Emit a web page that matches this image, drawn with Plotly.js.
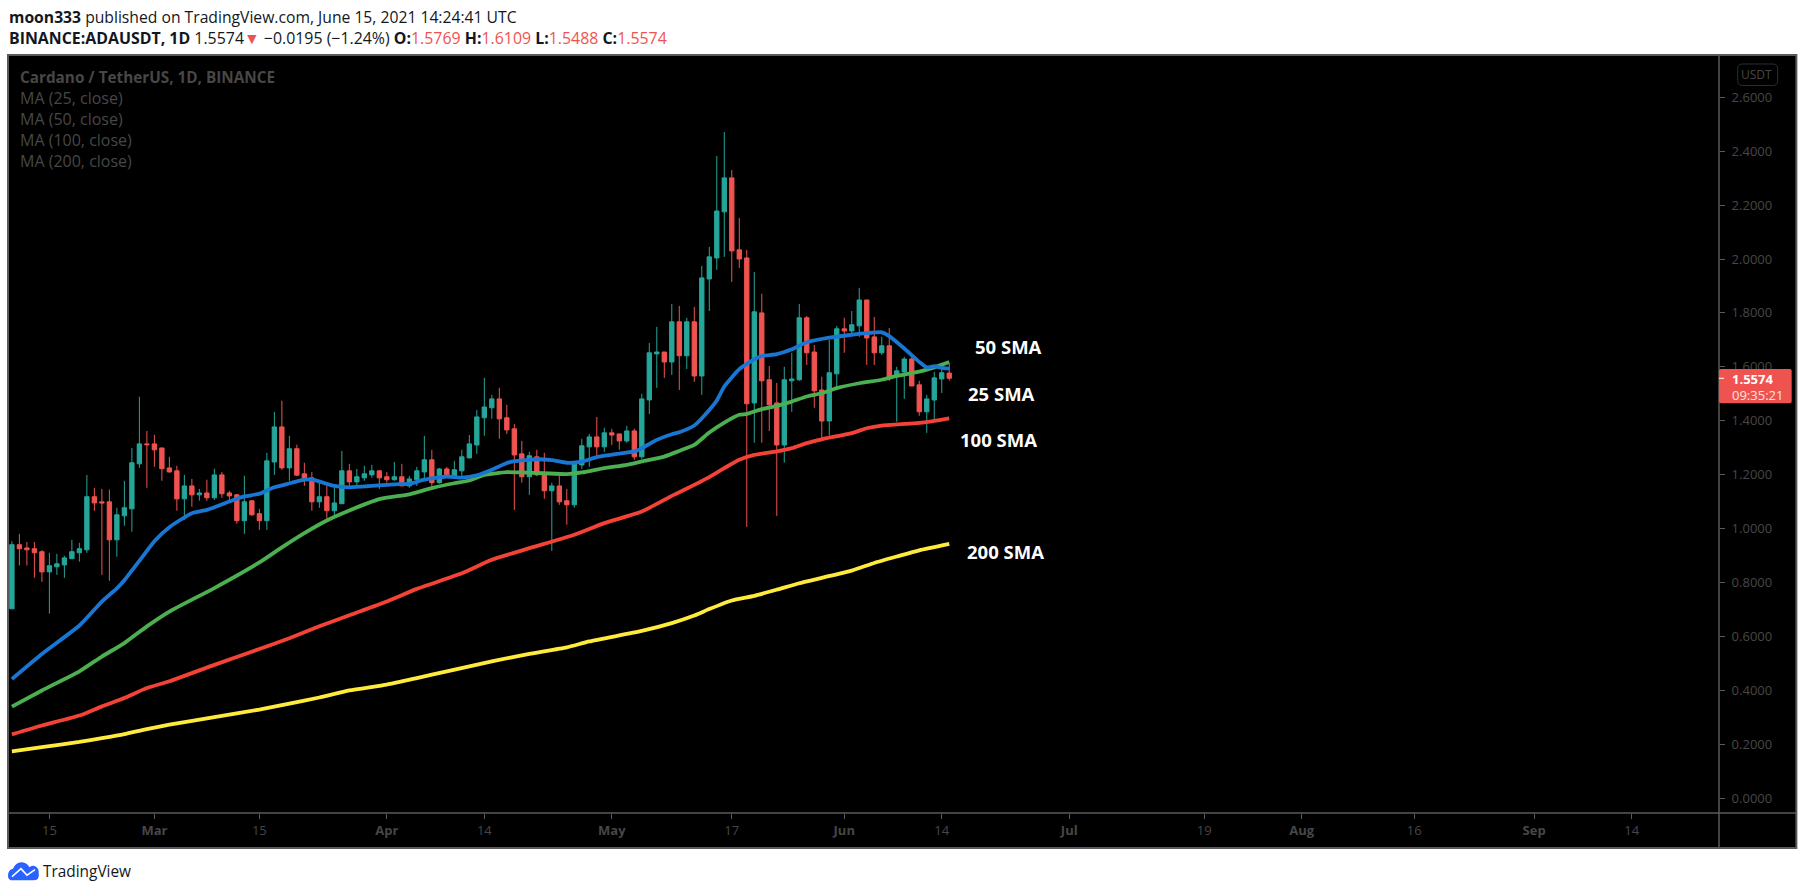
<!DOCTYPE html>
<html><head><meta charset="utf-8">
<script src="https://cdn.plot.ly/plotly-3.0.1.min.js"></script>
<style>html,body{margin:0;padding:0;background:#fff;overflow:hidden}#c{width:1805px;height:895px}</style>
</head><body><div id="c"></div>
<script>
const FIRST_DAY = '2021-02-10';
const open = [.702,.940,.928,.925,.914,.839,.858,.865,.888,.910,
.921,1.118,1.099,1.099,.958,1.047,1.073,1.240,1.314,1.314,
1.299,1.225,1.214,1.110,1.158,1.125,1.132,1.114,1.199,1.132,
1.125,1.029,1.103,1.055,1.029,1.247,1.377,1.225,1.296,1.203,
1.188,1.099,1.118,1.066,1.092,1.214,1.173,1.188,1.199,1.214,
1.192,1.181,1.192,1.158,1.181,1.210,1.255,1.170,1.221,1.195,
1.214,1.262,1.310,1.411,1.448,1.481,1.411,1.370,1.277,1.192,
1.266,1.203,1.140,1.158,1.103,1.088,1.236,1.303,1.340,1.303,
1.355,1.351,1.325,1.362,1.266,1.477,1.648,1.655,1.618,1.767,
1.641,1.767,1.566,1.926,2.004,2.175,2.301,2.034,2.004,1.466,
1.800,1.552,1.466,1.310,1.548,1.552,1.782,1.655,1.514,1.399,
1.574,1.741,1.733,1.752,1.848,1.711,1.652,1.678,1.563,1.581,
1.629,1.533,1.433,1.477,1.555,1.5769];
const high = [.953,.980,.950,.950,.920,.910,.906,.899,.958,.947,
1.199,1.151,1.147,1.144,1.077,1.177,1.299,1.489,1.362,1.348,
1.299,1.266,1.233,1.199,1.184,1.147,1.181,1.222,1.210,1.140,
1.129,1.196,1.103,1.073,1.281,1.433,1.474,1.344,1.311,1.244,
1.210,1.173,1.166,1.155,1.288,1.240,1.221,1.233,1.236,1.214,
1.210,1.247,1.240,1.195,1.229,1.344,1.292,1.225,1.229,1.251,
1.292,1.347,1.440,1.559,1.496,1.522,1.459,1.388,1.325,1.285,
1.292,1.281,1.170,1.195,1.147,1.247,1.333,1.351,1.414,1.374,
1.370,1.351,1.381,1.370,1.500,1.688,1.748,1.655,1.833,1.826,
1.782,1.822,1.974,2.045,2.382,2.471,2.330,2.152,2.034,1.952,
1.871,1.603,1.540,1.600,1.652,1.833,1.789,1.681,1.563,1.700,
1.752,1.782,1.807,1.893,1.848,1.785,1.711,1.744,1.600,1.637,
1.641,1.548,1.496,1.581,1.600,1.6109];
const low = [.702,.863,.863,.817,.802,.684,.828,.817,.888,.877,
.910,1.066,.828,.806,.895,1.010,.988,1.225,1.151,1.229,
1.177,1.207,1.066,1.032,1.081,1.103,1.103,1.106,1.114,1.103,
1.018,.980,1.047,.995,.995,1.199,1.218,1.177,1.196,1.158,
1.066,1.077,1.036,1.043,1.092,1.155,1.155,1.177,1.188,1.147,
1.170,1.177,1.158,1.151,1.158,1.188,1.155,1.166,1.188,1.188,
1.195,1.262,1.277,1.344,1.407,1.333,1.351,1.069,1.170,1.125,
1.195,1.110,.917,1.088,1.014,1.077,1.221,1.229,1.262,1.285,
1.310,1.292,1.318,1.255,1.258,1.425,1.522,1.559,1.570,1.514,
1.592,1.544,1.496,1.807,1.960,2.008,1.915,1.967,1.006,1.318,
1.318,1.362,1.047,1.244,1.433,1.548,1.607,1.448,1.333,1.344,
1.522,1.652,1.715,1.711,1.607,1.607,1.644,1.548,1.396,1.481,
1.529,1.418,1.355,1.396,1.503,1.5488];
const close = [.940,.925,.921,.910,.839,.862,.869,.891,.914,.925,
1.118,1.095,1.095,.958,1.051,1.077,1.244,1.314,1.311,1.292,
1.222,1.210,1.110,1.158,1.125,1.132,1.114,1.199,1.129,1.121,
1.029,1.099,1.051,1.029,1.251,1.377,1.225,1.296,1.198,1.184,
1.099,1.118,1.066,1.095,1.214,1.173,1.192,1.203,1.214,1.188,
1.181,1.192,1.158,1.184,1.214,1.255,1.170,1.221,1.195,1.218,
1.266,1.314,1.414,1.451,1.481,1.407,1.366,1.273,1.192,1.270,
1.199,1.140,1.158,1.099,1.088,1.240,1.307,1.340,1.303,1.355,
1.347,1.325,1.362,1.266,1.481,1.652,1.655,1.618,1.767,1.641,
1.767,1.566,1.930,2.008,2.178,2.301,2.030,2.000,1.463,1.804,
1.548,1.459,1.310,1.552,1.555,1.782,1.652,1.511,1.399,1.578,
1.741,1.733,1.756,1.848,1.707,1.652,1.678,1.563,1.585,1.629,
1.529,1.433,1.481,1.559,1.578,1.5574];

const ma25Dates = ['02-10','02-14','02-19','02-22','02-24','02-25','02-27','03-01','03-03','03-06','03-08','03-11','03-13','03-15','03-17','03-18','03-21','03-22','03-25','03-27','03-30','04-02','04-04','04-06','04-09','04-11','04-13','04-15','04-17','04-18','04-21','04-23','04-25','04-27','04-29','05-02','05-04','05-05','05-07','05-09','05-10','05-12','05-14','05-15','05-16','05-18','05-20','05-21','05-23','05-25','05-27','05-30','06-02','06-04','06-06','06-07','06-09','06-11','06-12','06-13','06-14','06-15'];
const ma25 = [.441,.534,.640,.729,.778,.808,.880,.953,1.005,1.057,1.069,1.100,1.119,1.129,1.153,1.160,1.181,1.182,1.158,1.153,1.158,1.164,1.166,1.181,1.193,1.189,1.197,1.218,1.243,1.250,1.257,1.254,1.244,1.248,1.265,1.278,1.286,1.298,1.329,1.350,1.357,1.382,1.440,1.475,1.527,1.591,1.628,1.640,1.647,1.665,1.691,1.708,1.719,1.725,1.728,1.714,1.668,1.618,1.598,1.602,1.596,1.593];
const ma50Dates = ['02-10','02-14','02-19','02-22','02-25','02-28','03-03','03-09','03-15','03-18','03-21','03-24','03-27','03-31','04-04','04-07','04-10','04-12','04-14','04-17','04-19','04-22','04-25','04-27','04-30','05-03','05-05','05-08','05-10','05-12','05-14','05-16','05-18','05-19','05-21','05-23','05-25','05-27','05-29','05-31','06-03','06-06','06-08','06-11','06-13','06-15'];
const ma50 = [.339,.399,.470,.525,.575,.637,.692,.779,.874,.930,.983,1.030,1.067,1.109,1.127,1.150,1.168,1.178,1.199,1.209,1.208,1.205,1.202,1.208,1.224,1.236,1.249,1.267,1.288,1.310,1.356,1.393,1.422,1.425,1.443,1.455,1.471,1.490,1.502,1.521,1.539,1.552,1.566,1.582,1.598,1.618];
const ma100Dates = ['02-10','02-14','02-19','02-22','02-25','02-28','03-03','03-09','03-15','03-19','03-23','03-27','04-01','04-05','04-11','04-15','04-20','04-26','04-30','05-05','05-09','05-12','05-14','05-16','05-18','05-20','05-23','05-25','05-27','05-29','06-02','06-04','06-06','06-09','06-12','06-15'];
const ma100 = [.236,.269,.306,.340,.371,.408,.433,.494,.553,.593,.637,.678,.729,.776,.834,.884,.927,.977,1.020,1.063,1.121,1.162,1.191,1.224,1.255,1.273,1.286,1.298,1.317,1.331,1.354,1.372,1.382,1.388,1.395,1.409];
const ma200Dates = ['02-10','02-14','02-19','02-22','02-25','02-28','03-03','03-09','03-15','03-19','03-23','03-27','04-01','04-05','04-09','04-15','04-20','04-25','04-28','05-05','05-09','05-12','05-14','05-17','05-20','05-23','05-26','05-29','06-02','06-05','06-08','06-11','06-15'];
const ma200 = [.173,.189,.208,.222,.237,.256,.272,.300,.328,.350,.373,.399,.421,.445,.470,.507,.535,.559,.581,.620,.649,.677,.701,.733,.750,.773,.797,.817,.844,.872,.896,.919,.943];

const xTickDates = ['2021-02-15','2021-03-01','2021-03-15','2021-04-01','2021-04-14','2021-05-01','2021-05-17','2021-06-01','2021-06-14','2021-07-01','2021-07-19','2021-08-01','2021-08-16','2021-09-01','2021-09-14'];
const xTickText = ['15','<b>Mar</b>','15','<b>Apr</b>','14','<b>May</b>','17','<b>Jun</b>','14','<b>Jul</b>','19','<b>Aug</b>','16','<b>Sep</b>','14'];
const yTicks = [0,.2,.4,.6,.8,1,1.2,1.4,1.6,1.8,2,2.2,2.4,2.6];
const lastPrice = 1.5574;
const smaLabels = ['50 SMA','25 SMA','100 SMA','200 SMA'];
const paneTitle = 'Cardano / TetherUS, 1D, BINANCE';
const paneLegend = ['MA (25, close)','MA (50, close)','MA (100, close)','MA (200, close)'];

const L=8,R=1719.3,T=55,B=813.3,FR=1796.7,FB=848.3;
const px=v=>(v-L)/(R-L), py=v=>1-(v-T)/(B-T);
const UP='#26a69a',DN='#ef5350',FR_C='#5a5a5a',TXT='#474747',FONT='"Open Sans",sans-serif';
const dates=open.map((_,i)=>new Date(Date.parse(FIRST_DAY+'T00:00:00Z')+i*864e5).toISOString().slice(0,10));
const full=a=>a.map(d=>'2021-'+d);
const line=(x,y,c)=>({type:'scatter',mode:'lines',x:full(x),y:y,line:{color:c,width:3.8,shape:'spline',smoothing:.5},hoverinfo:'skip',showlegend:false});

const traces=[
 line(ma200Dates,ma200,'#ffeb3b'),
 line(ma100Dates,ma100,'#f44336'),
 {type:'candlestick',x:dates,open,high,low,close,whiskerwidth:0,showlegend:false,hoverinfo:'skip',
  increasing:{line:{color:UP,width:1},fillcolor:UP},decreasing:{line:{color:DN,width:1},fillcolor:DN}},
 line(ma50Dates,ma50,'#4caf50'),
 line(ma25Dates,ma25,'#1976d2')
];
const P=(pts)=>pts.map(s=>typeof s==='string'?s:px(s[0])+','+py(s[1])).join(' ');
const rr=(x0,y0,x1,y1,r)=>P(['M',[x0+r,y0],'L',[x1-r,y0],'Q',[x1,y0],[x1,y0+r],'L',[x1,y1-r],'Q',[x1,y1],[x1-r,y1],'L',[x0+r,y1],'Q',[x0,y1],[x0,y1-r],'L',[x0,y0+r],'Q',[x0,y0],[x0+r,y0],'Z']);
const pa=(o)=>Object.assign({xref:'paper',yref:'paper'},o);
const shapes=[
 pa({type:'rect',layer:'below',x0:px(L),x1:px(FR),y0:py(T),y1:py(FB),fillcolor:'#000',line:{color:FR_C,width:2}}),
 pa({type:'line',layer:'above',x0:px(L),x1:px(FR),y0:py(B),y1:py(B),line:{color:FR_C,width:1.5}}),
 pa({type:'line',layer:'above',x0:px(R),x1:px(R),y0:py(T),y1:py(FB),line:{color:FR_C,width:1.5}}),
 pa({type:'path',layer:'above',path:rr(R,369,1792,403.3,2),fillcolor:DN,line:{width:0}}),
 {type:'line',layer:'above',xref:'paper',yref:'y',x0:px(R),x1:px(R+5),y0:lastPrice,y1:lastPrice,line:{color:'#fff',width:1}},
 pa({type:'path',layer:'above',path:rr(1738,64,1778,85.5,5),fillcolor:'rgba(0,0,0,0)',line:{color:'#2a2e39',width:1}}),
 pa({type:'path',layer:'above',path:P(['M',[8,876],'Q',[8,870],[13,869],'Q',[16,862],[22,862.5],'Q',[27,863],[29.5,867.5],'Q',[33,865],[36,867],'Q',[39,869],[38.7,873],'Q',[40,880.7],[33,880.7],'L',[13,880.7],'Q',[8,880.7],[8,876],'Z']),fillcolor:'#2962ff',line:{width:0}}),
 pa({type:'path',layer:'above',path:P(['M',[12,877],'L',[21,869],'L',[27,875.5],'L',[35,870]]),fillcolor:'rgba(0,0,0,0)',line:{color:'#fff',width:1.6}})
];
const note=(x,y,text,size,color,extra)=>Object.assign({xref:'paper',yref:'paper',x:px(x),y:py(y),text,showarrow:false,xanchor:'left',yanchor:'middle',align:'left',borderpad:0,
  font:{family:FONT,size,color}},extra||{});
const r=s=>'<span style="color:#ef5350">'+s+'</span>';
const annotations=[
 note(8,17,'<b>moon333</b> published on TradingView.com, June 15, 2021 14:24:41 UTC',15.7,'#131722'),
 note(8,38,'<b>BINANCE:ADAUSDT, 1D</b> 1.5574'+r('▼')+' −0.0195 (−1.24%) <b>O:</b>'+r('1.5769')+' <b>H:</b>'+r('1.6109')+' <b>L:</b>'+r('1.5488')+' <b>C:</b>'+r('1.5574'),15.9,'#131722'),
 note(19.5,76.7,'<b>'+paneTitle+'</b>',15.3,TXT),
 note(19.5,98,paneLegend[0],16,TXT),
 note(19.5,119,paneLegend[1],16,TXT),
 note(19.5,140,paneLegend[2],16,TXT),
 note(19.5,161,paneLegend[3],16,TXT),
 note(974,347,'<b>'+smaLabels[0]+'</b>',18.5,'#fff'),
 note(967,394,'<b>'+smaLabels[1]+'</b>',18.5,'#fff'),
 note(959.5,440,'<b>'+smaLabels[2]+'</b>',18.5,'#fff'),
 note(966,552,'<b>'+smaLabels[3]+'</b>',18.5,'#fff'),
 note(1740.5,75,'USDT',12,TXT),
 note(1731.5,379.3,'<b>'+lastPrice.toFixed(4)+'</b>',13,'#fff'),
 note(1731.5,395.3,'09:35:21',13,'#ffe3e1'),
 note(42,872,'TradingView',15.4,'#131722')
];
const layout={
 width:1805,height:895,autosize:false,showlegend:false,paper_bgcolor:'#fff',plot_bgcolor:'#000',
 margin:{l:L,r:1805-R,t:T,b:895-B,pad:0},boxgap:.42,boxgroupgap:0,boxmode:'overlay',
 font:{family:FONT,size:13,color:TXT},
 xaxis:{type:'date',range:['2021-02-09 11:31','2021-09-25 15:36'],rangeslider:{visible:false},showgrid:false,zeroline:false,
  tickmode:'array',tickvals:xTickDates,ticktext:xTickText,ticks:'outside',ticklen:5,tickwidth:1,tickcolor:FR_C,showline:false,
  tickangle:0,tickfont:{family:FONT,size:13,color:TXT}},
 yaxis:{side:'right',range:[-.0556,2.757],showgrid:false,zeroline:false,tickmode:'array',tickvals:yTicks,ticktext:yTicks.map(v=>v.toFixed(4)),
  ticks:'outside',ticklen:5,tickwidth:1,tickcolor:FR_C,showline:false,ticklabelstandoff:4,tickfont:{family:FONT,size:13,color:TXT}},
 shapes,annotations
};
Plotly.newPlot('c',traces,layout,{displayModeBar:false,staticPlot:true});
</script></body></html>
